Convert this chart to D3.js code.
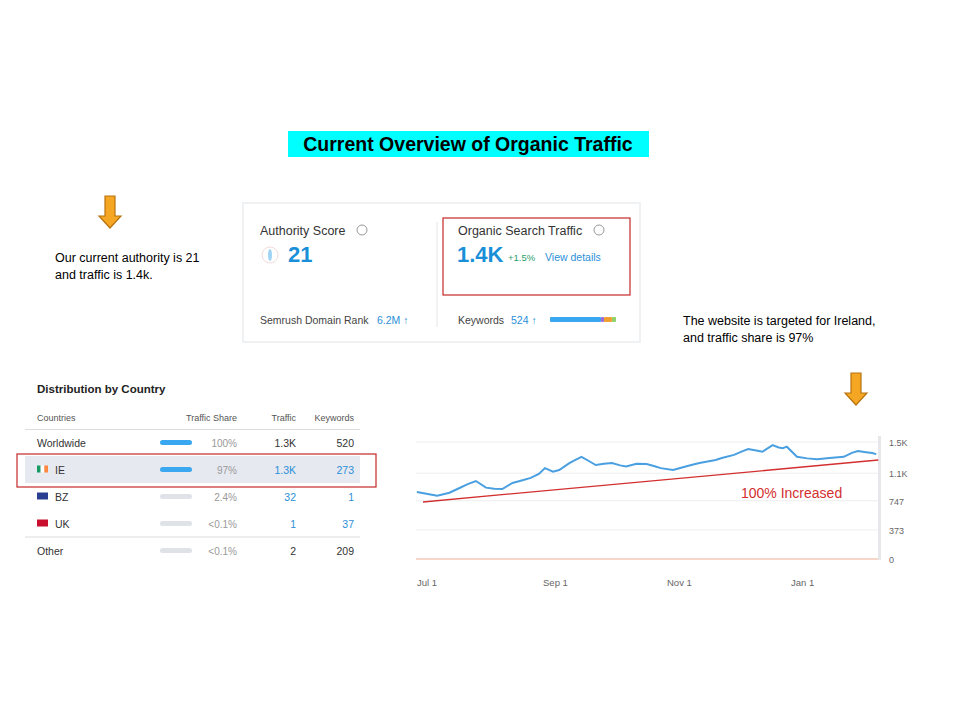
<!DOCTYPE html>
<html><head><meta charset="utf-8">
<script src="https://cdn.jsdelivr.net/npm/d3@7"></script>
<style>body{margin:0;background:#fff}svg{font-family:"Liberation Sans",Arial,sans-serif}</style>
</head><body><svg id="c" width="960" height="722"></svg>
<script>
// table data
const countries = ['Worldwide', 'IE', 'BZ', 'UK', 'Other']
const shares = ['100%', '97%', '2.4%', '<0.1%', '<0.1%']
const traffic = ['1.3K', '1.3K', '32', '1', '2']
const keywords = ['520', '273', '1', '37', '209']
const barColors = ['#3aa8f0', '#3aa8f0', '#dfe2e6', '#dfe2e6', '#dfe2e6']
// organic traffic trend
const dates = ['2022-06-28','2022-07-04','2022-07-08','2022-07-14','2022-07-19','2022-07-23','2022-07-27','2022-08-01','2022-08-05','2022-08-09',
  '2022-08-14','2022-08-19','2022-08-23','2022-08-27','2022-08-30','2022-09-03','2022-09-06','2022-09-11','2022-09-14','2022-09-17',
  '2022-09-21','2022-09-24','2022-09-28','2022-10-02','2022-10-06','2022-10-09','2022-10-14','2022-10-19','2022-10-23','2022-10-26',
  '2022-11-01','2022-11-05','2022-11-10','2022-11-14','2022-11-18','2022-11-22','2022-11-25','2022-12-01','2022-12-05','2022-12-08',
  '2022-12-12','2022-12-15','2022-12-20','2022-12-23','2022-12-25','2022-12-27','2023-01-01','2023-01-06','2023-01-11','2023-01-17',
  '2023-01-24','2023-01-28','2023-01-31','2023-02-04','2023-02-07','2023-02-09']
const values = [860,830,812,850,910,960,1000,915,900,897,
  975,1010,1040,1090,1165,1120,1140,1230,1270,1310,
  1250,1205,1220,1230,1200,1185,1220,1218,1190,1165,
  1140,1170,1205,1230,1250,1270,1295,1335,1380,1410,
  1390,1375,1460,1430,1420,1440,1310,1290,1280,1295,
  1310,1360,1385,1370,1360,1345]
const yTicks = [0, 373, 747, 1100, 1500]
const yTickLabels = ['0', '373', '747', '1.1K', '1.5K']
const xTicks = ['2022-07-01', '2022-09-01', '2022-11-01', '2023-01-01']
const xTickLabels = ['Jul 1', 'Sep 1', 'Nov 1', 'Jan 1']
const trendDates = ['2022-07-01', '2023-02-10']
const trendValues = [731, 1269]

const svg = d3.select('#c')
const parse = d3.timeParse('%Y-%m-%d')

// title
svg.append('rect').attr('x', 288).attr('y', 131).attr('width', 361).attr('height', 26).attr('fill', '#00ffff')
svg.append('text').attr('x', 468).attr('y', 151).attr('text-anchor', 'middle')
  .attr('font-size', 19.5).attr('font-weight', 'bold').text('Current Overview of Organic Traffic')

// orange arrows
function arrow(x, y) {
  svg.append('path').attr('fill', '#f5a623').attr('stroke', '#b8730f').attr('stroke-width', 1.2)
    .attr('d', `M${x-5},${y} h10 v20 h6 l-11,12 l-11,-12 h6 z`)
}
arrow(110, 196)
arrow(856, 373)

// side notes
const note = (x, y, t) => svg.append('text').attr('x', x).attr('y', y).attr('font-size', 12.5).text(t)
note(55, 262, 'Our current authority is 21')
note(55, 279, 'and traffic is 1.4k.')
note(683, 325, 'The website is targeted for Ireland,')
note(683, 342, 'and traffic share is 97%')

// overview card
svg.append('rect').attr('x', 243).attr('y', 203).attr('width', 397).attr('height', 139).attr('fill', '#fff').attr('stroke', '#f0f1f3').attr('stroke-width', 2)
svg.append('line').attr('x1', 437).attr('x2', 437).attr('y1', 222).attr('y2', 327).attr('stroke', '#e3e5e8')
const t = (x, y, s, txt, col, w) => svg.append('text').attr('x', x).attr('y', y).attr('font-size', s)
  .attr('fill', col || '#333').attr('font-weight', w || 'normal').text(txt)
t(260, 235, 12.5, 'Authority Score', '#333')
svg.append('circle').attr('cx', 362).attr('cy', 230).attr('r', 5).attr('fill', 'none').attr('stroke', '#999')
svg.append('circle').attr('cx', 270).attr('cy', 255).attr('r', 8).attr('fill', 'none').attr('stroke', '#f3dcdc')
svg.append('ellipse').attr('cx', 270).attr('cy', 255).attr('rx', 2).attr('ry', 6).attr('fill', '#9fd3f5')
t(288, 262, 22, '21', '#1a8fd8', 'bold')
t(458, 235, 12.5, 'Organic Search Traffic', '#333')
svg.append('circle').attr('cx', 599).attr('cy', 230).attr('r', 5).attr('fill', 'none').attr('stroke', '#999')
t(457, 262, 22, '1.4K', '#1a8fd8', 'bold')
t(508, 261, 9.5, '+1.5%', '#2aa06a')
t(545, 261, 10.5, 'View details', '#2b8fd8')
svg.append('rect').attr('x', 443).attr('y', 218).attr('width', 187).attr('height', 77).attr('fill', 'none').attr('stroke', '#c62828').attr('stroke-width', 1.2)
t(260, 324, 10.5, 'Semrush Domain Rank', '#444')
t(377, 324, 10.5, '6.2M ↑', '#2b8fd8')
t(458, 324, 10.5, 'Keywords', '#444')
t(511, 324, 10.5, '524 ↑', '#2b8fd8')
const kwParts = [['#3aa8f0', 51], ['#9b6ad6', 3], ['#f0a030', 8], ['#8fd16b', 4]]
let kx = 550
kwParts.forEach(([c, w]) => {
  svg.append('rect').attr('x', kx).attr('y', 317).attr('width', w).attr('height', 5).attr('fill', c).attr('rx', 1)
  kx += w
})

// distribution table
t(37, 393, 11.5, 'Distribution by Country', '#222', 'bold')
const hdr = svg.append('g').attr('font-size', 9).attr('fill', '#555')
hdr.append('text').attr('x', 37).attr('y', 421).text('Countries')
hdr.append('text').attr('x', 237).attr('y', 421).attr('text-anchor', 'end').text('Traffic Share')
hdr.append('text').attr('x', 296).attr('y', 421).attr('text-anchor', 'end').text('Traffic')
hdr.append('text').attr('x', 354).attr('y', 421).attr('text-anchor', 'end').text('Keywords')
svg.append('line').attr('x1', 25).attr('x2', 360).attr('y1', 429.5).attr('y2', 429.5).attr('stroke', '#ddd')
const rowY = d3.scaleBand().domain(countries).range([429, 564])
svg.append('rect').attr('x', 25).attr('y', rowY('IE')).attr('width', 335).attr('height', rowY.bandwidth()).attr('fill', '#e6e9f0')
svg.append('line').attr('x1', 25).attr('x2', 360).attr('y1', rowY('Other')).attr('y2', rowY('Other')).attr('stroke', '#ddd')
const flags = {IE: ['#169b62', '#fff', '#ff883e'], BZ: ['#2a3f8f'], UK: ['#c8102e']}
countries.forEach((c, i) => {
  const cy = rowY(c) + rowY.bandwidth() / 2
  let lx = 37
  if (flags[c]) {
    const f = flags[c]
    f.forEach((col, j) => svg.append('rect').attr('x', 37 + j * 11 / f.length).attr('y', cy - 4).attr('width', 11 / f.length).attr('height', 7).attr('fill', col))
    lx = 55
  }
  svg.append('text').attr('x', lx).attr('y', cy + 4).attr('font-size', 10.5).attr('fill', '#333').text(c)
  svg.append('rect').attr('x', 160).attr('y', cy - 2.5).attr('width', 32).attr('height', 5).attr('rx', 2.5).attr('fill', barColors[i])
  svg.append('text').attr('x', 237).attr('y', cy + 4).attr('font-size', 10).attr('text-anchor', 'end').attr('fill', '#999').text(shares[i])
  const blue = i > 0 && i < 4
  svg.append('text').attr('x', 296).attr('y', cy + 4).attr('font-size', 10.5).attr('text-anchor', 'end').attr('fill', blue ? '#2b8fd8' : '#333').text(traffic[i])
  svg.append('text').attr('x', 354).attr('y', cy + 4).attr('font-size', 10.5).attr('text-anchor', 'end').attr('fill', blue ? '#2b8fd8' : '#333').text(keywords[i])
})
svg.append('rect').attr('x', 17).attr('y', 454).attr('width', 359).attr('height', 33).attr('fill', 'none').attr('stroke', '#c62828').attr('stroke-width', 1.2)

// traffic line chart
const x = d3.scaleTime().domain([parse('2022-07-01'), parse('2023-01-01')]).range([423, 797])
const y = d3.scaleLinear().domain([0, 1500]).range([559, 442])
yTicks.forEach((v, i) => {
  svg.append('line').attr('x1', 416).attr('x2', 878).attr('y1', y(v)).attr('y2', y(v))
    .attr('stroke', i === 0 ? '#f3c9b8' : '#eee').attr('stroke-width', i === 0 ? 1.5 : 1)
  svg.append('text').attr('x', 889).attr('y', y(v) + 4).attr('font-size', 9).attr('fill', '#666').text(yTickLabels[i])
})
svg.append('rect').attr('x', 878).attr('y', 436).attr('width', 3).attr('height', 124).attr('fill', '#e5e7ea')
xTicks.forEach((d, i) => {
  svg.append('text').attr('x', x(parse(d)) - 6).attr('y', 586).attr('font-size', 9.5).attr('fill', '#666').text(xTickLabels[i])
})
const pts = dates.map((d, i) => [parse(d), values[i]])
svg.append('path').datum(pts).attr('fill', 'none').attr('stroke', '#4a9fe0').attr('stroke-width', 2)
  .attr('d', d3.line().x(d => x(d[0])).y(d => y(d[1])))
const trend = trendDates.map((d, i) => [parse(d), trendValues[i]])
svg.append('path').datum(trend).attr('fill', 'none').attr('stroke', '#d32f2f').attr('stroke-width', 1.3)
  .attr('d', d3.line().x(d => x(d[0])).y(d => y(d[1])))
svg.append('text').attr('x', 741).attr('y', 498).attr('font-size', 14).attr('fill', '#d32f2f').text('100% Increased')
</script></body></html>
